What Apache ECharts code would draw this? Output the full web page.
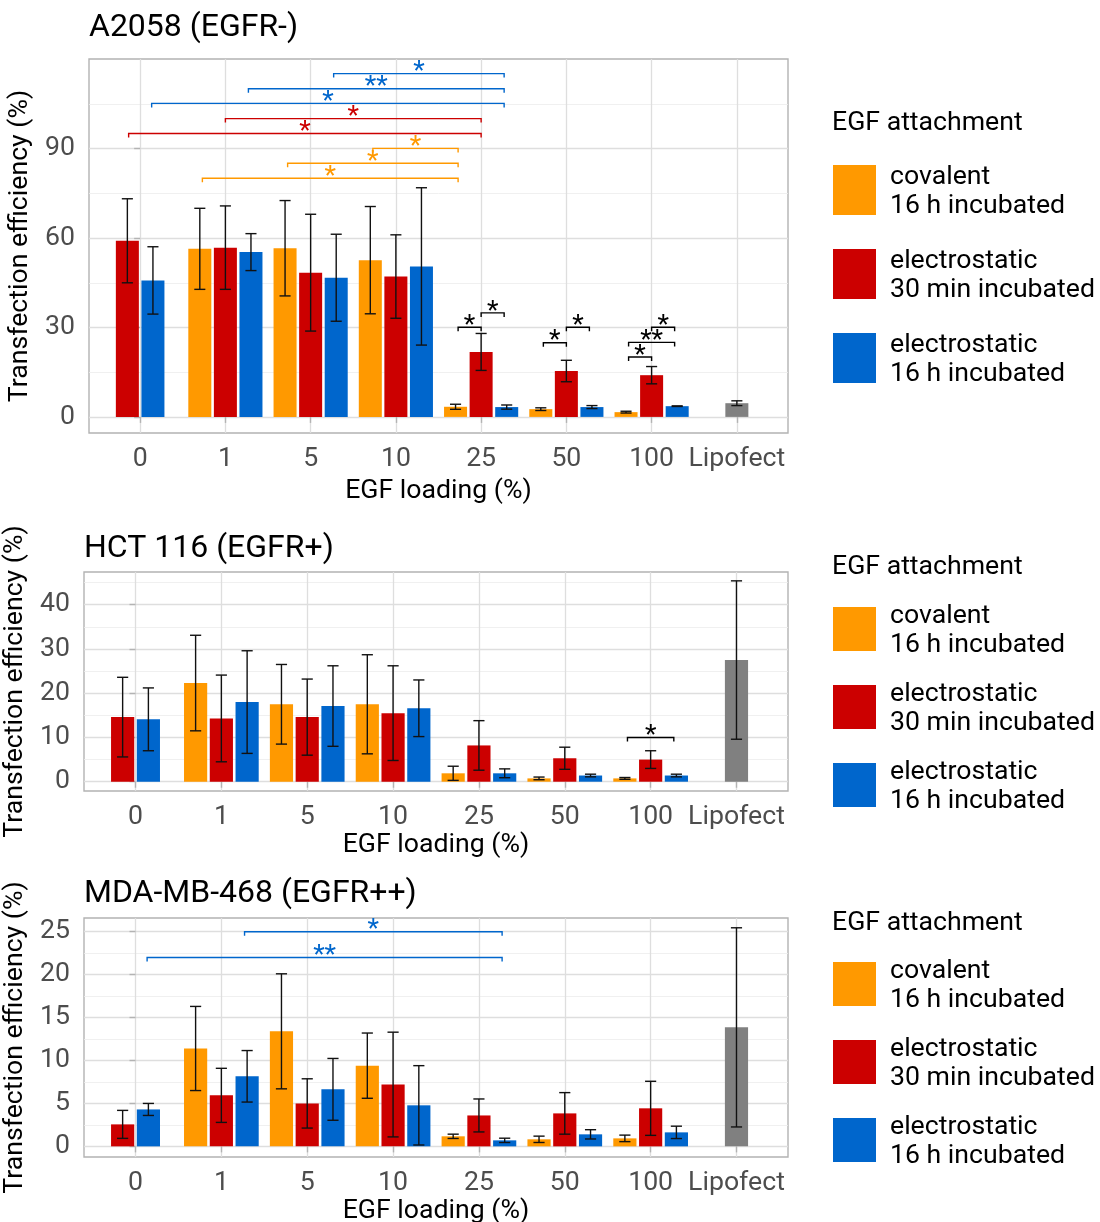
<!DOCTYPE html>
<html><head><meta charset="utf-8">
<script src="https://cdn.jsdelivr.net/npm/echarts@6/dist/echarts.min.js"></script>
<style>html,body{margin:0;padding:0;background:#fff}#c{width:1100px;height:1222px}</style>
</head><body><div id="c"></div>
<script>
// ---------- DATA ----------
const categories = ['0', '1', '5', '10', '25', '50', '100', 'Lipofect'];
const seriesNames = ['covalent\n16 h incubated', 'electrostatic\n30 min incubated', 'electrostatic\n16 h incubated'];
const panelTitles = ['A2058 (EGFR-)', 'HCT 116 (EGFR+)', 'MDA-MB-468 (EGFR++)'];
const legendTitle = 'EGF attachment';
const xAxisTitle = 'EGF loading (%)';
const yAxisTitle = 'Transfection efficiency (%)';

// A2058 (EGFR-)
const a2058_cov_mean = [null, 56.4, 56.6, 52.6, 3.4, 2.6, 1.6, null];
const a2058_cov_sd   = [null, 13.6, 16.0, 18.0, 0.85, 0.45, 0.3, null];
const a2058_e30_mean = [59.1, 56.8, 48.4, 47.1, 21.8, 15.4, 14.0, null];
const a2058_e30_sd   = [14.1, 14.0, 19.6, 14.0, 6.2, 3.6, 2.9, null];
const a2058_e16_mean = [45.8, 55.3, 46.7, 50.5, 3.3, 3.3, 3.6, null];
const a2058_e16_sd   = [11.3, 6.2, 14.6, 26.4, 0.7, 0.5, 0.1, null];
const a2058_lipo_mean = [null, null, null, null, null, null, null, 4.6];
const a2058_lipo_sd   = [null, null, null, null, null, null, null, 0.8];
// [group A, category A, group B, category B, height, label]
const a2058_brackets = [
  ['e16', 2, 'e16', 4, 115.2, '*'],
  ['e16', 1, 'e16', 4, 110.1, '**'],
  ['e16', 0, 'e16', 4, 105.2, '*'],
  ['e30', 1, 'e30', 4, 100.1, '*'],
  ['e30', 0, 'e30', 4, 95.1, '*'],
  ['cov', 3, 'cov', 4, 90.1, '*'],
  ['cov', 2, 'cov', 4, 85.1, '*'],
  ['cov', 1, 'cov', 4, 80.1, '*'],
  ['cov', 4, 'e30', 4, 30.1, '*'],
  ['e30', 4, 'e16', 4, 34.9, '*'],
  ['cov', 5, 'e30', 5, 24.9, '*'],
  ['e30', 5, 'e16', 5, 30.1, '*'],
  ['cov', 6, 'e30', 6, 20.1, '*'],
  ['cov', 6, 'e16', 6, 25.0, '**'],
  ['e30', 6, 'e16', 6, 30.1, '*']
];
const a2058_yTicks = [0, 30, 60, 90];
const a2058_yMinor = [15, 45, 75, 105];

// HCT 116 (EGFR+)
const hct_cov_mean = [null, 22.3, 17.5, 17.5, 1.9, 0.75, 0.75, null];
const hct_cov_sd   = [null, 10.8, 9.0, 11.2, 1.6, 0.3, 0.2, null];
const hct_e30_mean = [14.6, 14.3, 14.6, 15.5, 8.2, 5.3, 5.0, null];
const hct_e30_sd   = [9.0, 9.8, 8.6, 10.7, 5.6, 2.5, 2.0, null];
const hct_e16_mean = [14.1, 18.0, 17.1, 16.6, 1.9, 1.4, 1.4, null];
const hct_e16_sd   = [7.1, 11.6, 9.1, 6.4, 1.0, 0.3, 0.3, null];
const hct_lipo_mean = [null, null, null, null, null, null, null, 27.5];
const hct_lipo_sd   = [null, null, null, null, null, null, null, 17.9];
const hct_brackets = [
  ['cov', 6, 'e16', 6, 10.0, '*']
];
const hct_yTicks = [0, 10, 20, 30, 40];
const hct_yMinor = [5, 15, 25, 35, 45];

// MDA-MB-468 (EGFR++)
const mda_cov_mean = [null, 11.4, 13.4, 9.4, 1.17, 0.82, 0.93, null];
const mda_cov_sd   = [null, 4.9, 6.7, 3.8, 0.25, 0.37, 0.38, null];
const mda_e30_mean = [2.56, 5.94, 5.0, 7.2, 3.6, 3.84, 4.43, null];
const mda_e30_sd   = [1.63, 3.15, 2.87, 6.1, 1.92, 2.42, 3.15, null];
const mda_e16_mean = [4.3, 8.16, 6.64, 4.78, 0.7, 1.4, 1.63, null];
const mda_e16_sd   = [0.7, 3.0, 3.6, 4.62, 0.25, 0.54, 0.72, null];
const mda_lipo_mean = [null, null, null, null, null, null, null, 13.86];
const mda_lipo_sd   = [null, null, null, null, null, null, null, 11.6];
const mda_brackets = [
  ['e16', 1, 'e16', 4, 25.0, '*'],
  ['e16', 0, 'e16', 4, 22.0, '**']
];
const mda_yTicks = [0, 5, 10, 15, 20, 25];
const mda_yMinor = [2.5, 7.5, 12.5, 17.5, 22.5];

// ---------- STYLE / LAYOUT ----------
const COLORS = { cov: '#FF9900', e30: '#CC0000', e16: '#0066CC', lipo: '#808080' };
const GKEYS = ['cov', 'e30', 'e16', 'lipo'];
const FONT = 'Roboto';
const FS = 26.67;

const panels = [
  { cov: [a2058_cov_mean, a2058_cov_sd], e30: [a2058_e30_mean, a2058_e30_sd], e16: [a2058_e16_mean, a2058_e16_sd], lipo: [a2058_lipo_mean, a2058_lipo_sd], brackets: a2058_brackets, yTicks: a2058_yTicks, yMinor: a2058_yMinor },
  { cov: [hct_cov_mean, hct_cov_sd], e30: [hct_e30_mean, hct_e30_sd], e16: [hct_e16_mean, hct_e16_sd], lipo: [hct_lipo_mean, hct_lipo_sd], brackets: hct_brackets, yTicks: hct_yTicks, yMinor: hct_yMinor },
  { cov: [mda_cov_mean, mda_cov_sd], e30: [mda_e30_mean, mda_e30_sd], e16: [mda_e16_mean, mda_e16_sd], lipo: [mda_lipo_mean, mda_lipo_sd], brackets: mda_brackets, yTicks: mda_yTicks, yMinor: mda_yMinor }
];
const layout = [
  { left: 89, top: 59, width: 699, height: 374, ymin: -5.4, ymax: 120.1, titleLeft: 89, titleTop: 12, xNameGap: 45, yNameGap: 46, legendTop: 163.2, iconH: 50, legendGap: 26.4, legTitleTop: 110 },
  { left: 84, top: 572, width: 704, height: 219, ymin: -2.1, ymax: 47.4, titleLeft: 84, titleTop: 533, xNameGap: 38, yNameGap: 41, legendTop: 602.2, iconH: 44, legendGap: 20.4, legTitleTop: 554 },
  { left: 84, top: 918, width: 704, height: 239, ymin: -1.24, ymax: 26.6, titleLeft: 84, titleTop: 878, xNameGap: 39, yNameGap: 41, legendTop: 957.2, iconH: 44, legendGap: 20.4, legTitleTop: 910 }
];

const catIdx = categories.map((_, i) => i);
const BAR_STEP = 0.3, BAR_W = 0.27, BRK_STEP = 0.27, CAP = 0.065;

function slot(p, key, cat) {
  const present = GKEYS.filter(k => p[k][0][cat] != null);
  const n = present.length, i = present.indexOf(key);
  return i - (n - 1) / 2;
}

function barSeries(p, pi, key, name) {
  const [mean, sd] = p[key];
  const data = [];
  mean.forEach((m, i) => { if (m != null) data.push([i, m, sd[i], slot(p, key, i)]); });
  return {
    type: 'custom', name: name, xAxisIndex: pi, yAxisIndex: pi * 2, z: 3, silent: true,
    itemStyle: { color: COLORS[key] },
    data: data, encode: { x: 0, y: 1 },
    renderItem: function (params, api) {
      const c = api.value(0) + api.value(3) * BAR_STEP, m = api.value(1), s = api.value(2);
      const bl = api.coord([c - BAR_W / 2, 0]), tr = api.coord([c + BAR_W / 2, m]);
      const hi = api.coord([c, m + s]), lo = api.coord([c, m - s]);
      const cw = api.size([CAP, 0])[0];
      const ls = { stroke: '#111', lineWidth: 1.4 };
      return { type: 'group', children: [
        { type: 'rect', shape: { x: bl[0], y: tr[1], width: tr[0] - bl[0], height: bl[1] - tr[1] }, style: { fill: COLORS[key] } },
        { type: 'line', shape: { x1: hi[0], y1: hi[1], x2: lo[0], y2: lo[1] }, style: ls },
        { type: 'line', shape: { x1: hi[0] - cw, y1: hi[1], x2: hi[0] + cw, y2: hi[1] }, style: ls },
        { type: 'line', shape: { x1: lo[0] - cw, y1: lo[1], x2: lo[0] + cw, y2: lo[1] }, style: ls }
      ] };
    }
  };
}

function bracketSeries(p, pi) {
  const data = p.brackets.map(b => [b[1] + slot(p, b[0], b[1]) * BRK_STEP, b[3] + slot(p, b[2], b[3]) * BRK_STEP, b[4]]);
  return {
    type: 'custom', xAxisIndex: pi, yAxisIndex: pi * 2, z: 4, silent: true,
    data: data, encode: { x: [0, 1], y: 2 },
    renderItem: function (params, api) {
      const b = p.brackets[params.dataIndex];
      const col = b[0] === b[2] ? COLORS[b[0]] : '#000';
      const a = api.coord([api.value(0), api.value(2)]), e = api.coord([api.value(1), api.value(2)]);
      const tip = 4;
      return { type: 'group', children: [
        { type: 'polyline', shape: { points: [[a[0], a[1] + tip], [a[0], a[1]], [e[0], e[1]], [e[0], e[1] + tip]] }, style: { stroke: col, fill: null, lineWidth: 1.4 } },
        { type: 'text', x: (a[0] + e[0]) / 2, y: a[1] - 1, style: { text: b[5], fill: col, font: FS + 'px ' + FONT, align: 'center', verticalAlign: 'middle' } }
      ] };
    }
  };
}

// legend key: a square with a little empty space below it so the two-line label sits centred on the square
function keyIcon(h) {
  return 'path://M0,0L43,0L43,' + h + 'L0,' + h + 'ZM0,' + (h + 4) + 'L0.01,' + (h + 4);
}

const grids = [], xAxes = [], yAxes = [], series = [], titles = [], legends = [];
panels.forEach((p, pi) => {
  const L = layout[pi];
  grids.push({ left: L.left, top: L.top, width: L.width, height: L.height, show: true, borderColor: '#b3b3b3', borderWidth: 1.4, backgroundColor: 'transparent', containLabel: false, outerBoundsMode: 'none' });
  xAxes.push({
    type: 'value', gridIndex: pi, min: -0.6, max: 7.6,
    axisLine: { show: false },
    axisTick: { show: true, customValues: catIdx, length: 6, lineStyle: { color: '#b3b3b3', width: 1.4 } },
    axisLabel: { customValues: catIdx, formatter: v => categories[v], fontSize: FS, color: '#4d4d4d', fontFamily: FONT, margin: 13 },
    splitLine: { show: true, lineStyle: { color: '#dedede', width: 1.3 } },
    name: xAxisTitle, nameLocation: 'middle', nameGap: L.xNameGap,
    nameTextStyle: { fontSize: FS, color: '#000', fontFamily: FONT }
  });
  yAxes.push({
    type: 'value', gridIndex: pi, min: L.ymin, max: L.ymax, position: 'left',
    axisLine: { show: false },
    axisTick: { show: true, customValues: p.yTicks, length: 6, lineStyle: { color: '#b3b3b3', width: 1.4 } },
    axisLabel: { customValues: p.yTicks, fontSize: FS, color: '#4d4d4d', fontFamily: FONT, margin: 14 },
    splitLine: { show: true, lineStyle: { color: '#dedede', width: 1.3 } },
    name: yAxisTitle, nameLocation: 'middle', nameGap: L.yNameGap, nameRotate: 90,
    nameTextStyle: { fontSize: FS, color: '#000', fontFamily: FONT }
  });
  yAxes.push({
    type: 'value', gridIndex: pi, min: L.ymin, max: L.ymax, position: 'left',
    axisLine: { show: false },
    axisTick: { show: false, customValues: p.yMinor },
    axisLabel: { show: false, customValues: p.yMinor },
    splitLine: { show: true, lineStyle: { color: '#ececec', width: 0.8 } }
  });
  series.push(barSeries(p, pi, 'cov', seriesNames[0]));
  series.push(barSeries(p, pi, 'e30', seriesNames[1]));
  series.push(barSeries(p, pi, 'e16', seriesNames[2]));
  series.push(barSeries(p, pi, 'lipo', 'Lipofect'));
  series.push(bracketSeries(p, pi));
  titles.push({ text: panelTitles[pi], left: L.titleLeft, top: L.titleTop, padding: 0, textStyle: { fontSize: 32, fontWeight: 'normal', color: '#000', fontFamily: FONT } });
  titles.push({ text: legendTitle, left: 832, top: L.legTitleTop, padding: 0, textStyle: { fontSize: FS, fontWeight: 'normal', color: '#000', fontFamily: FONT } });
  legends.push({
    data: seriesNames, orient: 'vertical', left: 833, top: L.legendTop, padding: 0,
    itemWidth: 43, itemHeight: L.iconH + 4, itemGap: L.legendGap, icon: keyIcon(L.iconH), selectedMode: false,
    itemStyle: { borderWidth: 0 },
    textStyle: { fontSize: FS, lineHeight: 28.8, color: '#000', fontFamily: FONT, padding: [0, 0, 0, 9] }
  });
});

const chart = echarts.init(document.getElementById('c'), null, { renderer: 'canvas' });
chart.setOption({
  animation: false,
  backgroundColor: '#fff',
  title: titles, legend: legends,
  grid: grids, xAxis: xAxes, yAxis: yAxes, series: series
});
</script></body></html>
